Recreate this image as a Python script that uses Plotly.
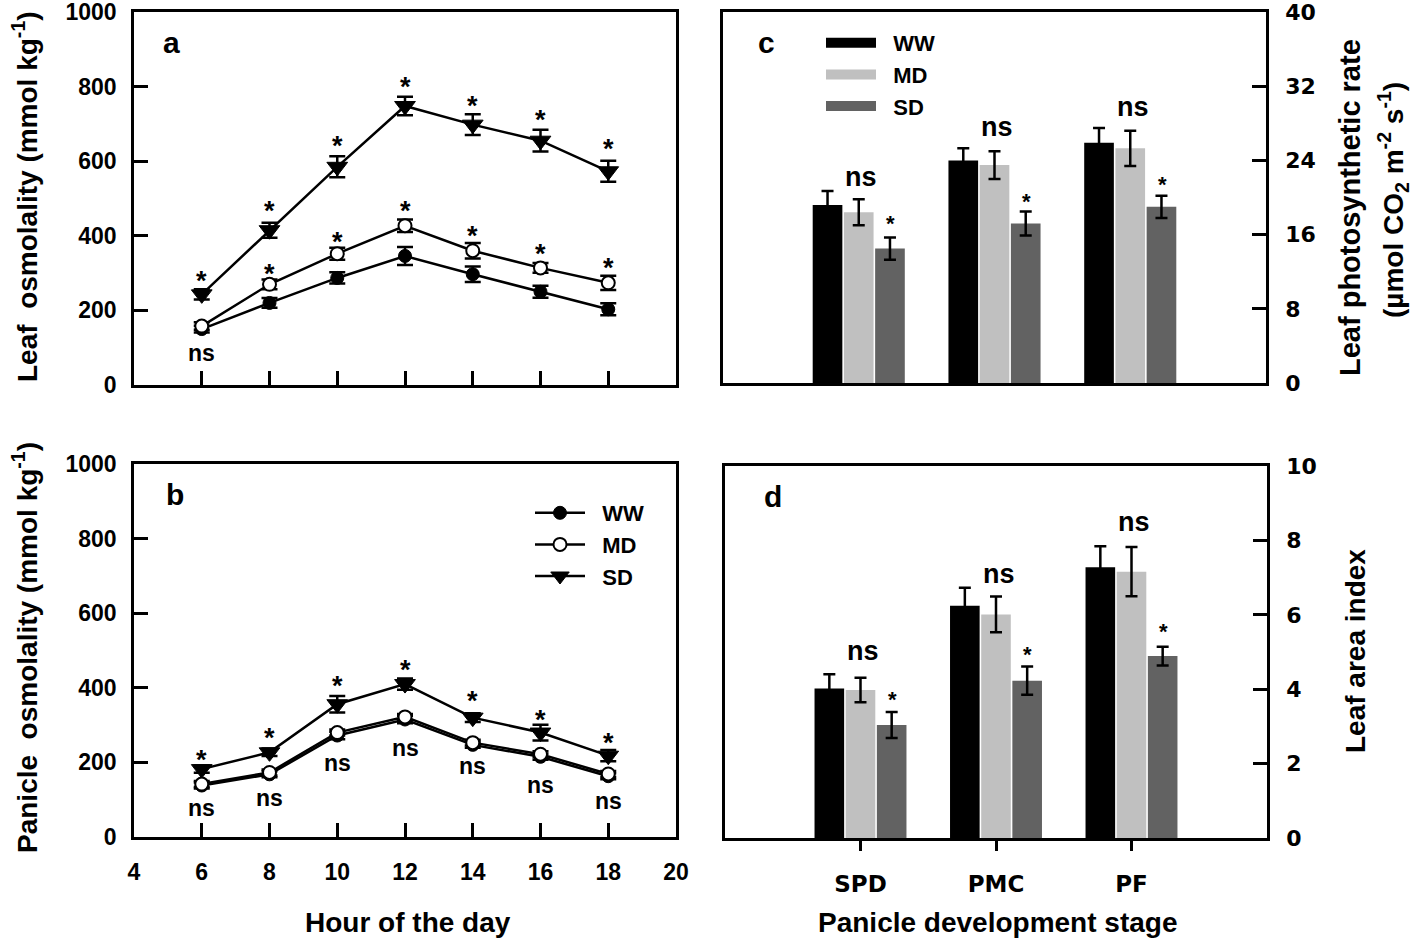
import plotly.graph_objects as go

# ---------------- data ----------------
hours = [6, 8, 10, 12, 14, 16, 18]
hour_ticks = [4, 6, 8, 10, 12, 14, 16, 18, 20]

leaf_ww = [150, 220, 287, 346, 297, 250, 203]
leaf_ww_err = [9, 13, 15, 24, 21, 16, 16]
leaf_md = [158, 270, 352, 427, 360, 314, 274]
leaf_md_err = [10, 13, 16, 17, 21, 13, 19]
leaf_sd = [243, 415, 585, 748, 698, 655, 573]
leaf_sd_err = [14, 20, 28, 25, 28, 29, 28]

pan_ww = [138, 168, 272, 315, 247, 215, 163]
pan_ww_err = [8, 8, 10, 10, 8, 8, 8]
pan_md = [142, 173, 280, 322, 253, 222, 169]
pan_md_err = [8, 8, 8, 8, 8, 8, 8]
pan_sd = [182, 227, 356, 410, 320, 280, 218]
pan_sd_err = [10, 10, 22, 15, 12, 21, 15]

# significance labels (text, y position) for line panels
leaf_sig_sd_y = [292, 482, 655, 813, 762, 724, 648]
leaf_sig_md = ["ns", "*", "*", "*", "*", "*", "*"]
leaf_sig_md_y = [84, 311, 399, 481, 414, 365, 327]
pan_sig_sd_y = [222, 280, 418, 463, 378, 329, 267]
pan_sig_ns_y = [75, 102, 196, 236, 187, 138, 93]

stages = ["SPD", "PMC", "PF"]
stage_pos = [0, 1, 2]

pn_ww = [19.2, 24.0, 25.9]
pn_ww_err = [1.5, 1.3, 1.6]
pn_md = [18.4, 23.5, 25.3]
pn_md_err = [1.4, 1.5, 1.9]
pn_sd = [14.5, 17.2, 19.0]
pn_sd_err = [1.2, 1.3, 1.2]
pn_ns_y = [22.1, 27.5, 29.6]
pn_star_y = [17.7, 20.0, 21.9]

lai_ww = [4.02, 6.24, 7.28]
lai_ww_err = [0.38, 0.49, 0.56]
lai_md = [3.98, 6.01, 7.16]
lai_md_err = [0.33, 0.48, 0.66]
lai_sd = [3.04, 4.23, 4.89]
lai_sd_err = [0.35, 0.38, 0.25]
lai_ns_y = [5.01, 7.07, 8.46]
lai_star_y = [3.84, 5.05, 5.68]

treatments = ["WW", "MD", "SD"]
bar_colors = ["#000000", "#c0c0c0", "#626262"]

W, H = 1418, 939
FONT = "Liberation Sans"
TICKFONT = dict(family=FONT, size=23, color="black", weight="bold")
TICKFONT_R = dict(family="DejaVu Sans", size=22, color="black", weight="bold")
LW = 2.5
NB = "\u00a0"


def px(xp):
    return xp / W


def py(yp):
    return 1 - yp / H


fig = go.Figure()

# ---------------- line panels ----------------
line_specs = [
    ("WW", dict(symbol="circle", size=13, color="black", line=dict(color="black", width=1))),
    ("MD", dict(symbol="circle", size=13, color="white", line=dict(color="black", width=2))),
    ("SD", dict(symbol="triangle-down", size=18, color="black", line=dict(color="black", width=1))),
]
leaf_vals = [(leaf_ww, leaf_ww_err), (leaf_md, leaf_md_err), (leaf_sd, leaf_sd_err)]
pan_vals = [(pan_ww, pan_ww_err), (pan_md, pan_md_err), (pan_sd, pan_sd_err)]

for (name, mk), (vals, errs) in zip(line_specs, leaf_vals):
    fig.add_trace(go.Scatter(
        x=hours, y=vals, mode="lines+markers", name=name, showlegend=False,
        line=dict(color="black", width=LW), marker=mk,
        error_y=dict(type="data", array=errs, color="black", thickness=2.5, width=8),
        xaxis="x", yaxis="y"))

for (name, mk), (vals, errs) in zip(line_specs, pan_vals):
    fig.add_trace(go.Scatter(
        x=hours, y=vals, mode="lines+markers", name=NB + NB + name, showlegend=True,
        legend="legend",
        line=dict(color="black", width=LW), marker=mk,
        error_y=dict(type="data", array=errs, color="black", thickness=2.5, width=8),
        xaxis="x2", yaxis="y2"))

# ---------------- bar panels ----------------
pn_vals = [(pn_ww, pn_ww_err), (pn_md, pn_md_err), (pn_sd, pn_sd_err)]
lai_vals = [(lai_ww, lai_ww_err), (lai_md, lai_md_err), (lai_sd, lai_sd_err)]

for name, col, (vals, errs) in zip(treatments, bar_colors, pn_vals):
    fig.add_trace(go.Bar(
        x=stage_pos, y=vals, name=name, showlegend=False, offsetgroup=name,
        marker=dict(color=col, line=dict(width=0)),
        error_y=dict(type="data", array=errs, color="black", thickness=2.5, width=6),
        xaxis="x3", yaxis="y3"))
    # legend swatch
    fig.add_trace(go.Scatter(
        x=[None], y=[None], mode="lines", name=NB + NB + name, legend="legend2",
        line=dict(color=col, width=12), xaxis="x3", yaxis="y3"))

for name, col, (vals, errs) in zip(treatments, bar_colors, lai_vals):
    fig.add_trace(go.Bar(
        x=stage_pos, y=vals, name=name, showlegend=False, offsetgroup=name,
        marker=dict(color=col, line=dict(width=0)),
        error_y=dict(type="data", array=errs, color="black", thickness=2.5, width=6),
        xaxis="x4", yaxis="y4"))

# ---------------- annotations ----------------
ann = []


def sig(text, x, y, xref, yref, size):
    shift = -0.2 * size if text == "*" else 1
    ann.append(dict(text=text, x=x, y=y, xref=xref, yref=yref, showarrow=False,
                    xanchor="center", yanchor="middle", yshift=shift,
                    font=dict(family=FONT, size=size, color="black", weight="bold")))


for h, y in zip(hours, leaf_sig_sd_y):
    sig("*", h, y, "x", "y", 27)
for h, t, y in zip(hours, leaf_sig_md, leaf_sig_md_y):
    sig(t, h, y, "x", "y", 23 if t == "ns" else 27)
for h, y in zip(hours, pan_sig_sd_y):
    sig("*", h, y, "x2", "y2", 27)
for h, y in zip(hours, pan_sig_ns_y):
    sig("ns", h, y, "x2", "y2", 23)
for p, y in zip(stage_pos, pn_ns_y):
    sig("ns", p + 0.02, y, "x3", "y3", 27)
for p, y in zip(stage_pos, pn_star_y):
    sig("*", p + 0.235, y, "x3", "y3", 22)
for p, y in zip(stage_pos, lai_ns_y):
    sig("ns", p + 0.02, y, "x4", "y4", 27)
for p, y in zip(stage_pos, lai_star_y):
    sig("*", p + 0.235, y, "x4", "y4", 22)

# panel letters
for letter, xp, yp in [("a", 171, 43), ("b", 175, 495), ("c", 766, 43), ("d", 773, 497)]:
    ann.append(dict(text=letter, x=px(xp), y=py(yp), xref="paper", yref="paper",
                    showarrow=False, xanchor="center", yanchor="middle",
                    font=dict(family=FONT, size=30, color="black", weight="bold")))

TF = dict(family=FONT, size=28, color="black", weight="bold")
titles = [
    ("Leaf  osmolality (mmol kg<sup>-1</sup>)", 25, 197, -90, 28),
    ("Panicle  osmolality (mmol kg<sup>-1</sup>)", 25, 648, -90, 28),
    ("Hour of the day", 408, 922, 0, 28),
    ("Panicle development stage", 997, 922, 0, 28),
    ("Leaf photosynthetic rate", 1350, 208, -90, 29),
    ("(µmol CO<sub>2</sub> m<sup>-2</sup> s<sup>-1</sup>)", 1393, 200, -90, 28),
    ("Leaf area index", 1355, 651, -90, 28),
]
for t, xp, yp, ang, fs in titles:
    ann.append(dict(text=t, x=px(xp), y=py(yp), xref="paper", yref="paper",
                    showarrow=False, xanchor="center", yanchor="middle",
                    textangle=ang, font=dict(TF, size=fs)))


# ---------------- axes ----------------
def frame(**kw):
    d = dict(showline=True, linewidth=LW, linecolor="black", mirror=True,
             showgrid=False, zeroline=False, tickcolor="black", tickwidth=LW,
             automargin=False, ticklabeloverflow="allow")
    d.update(kw)
    return d


layout = dict(
    width=W, height=H, margin=dict(l=0, r=0, t=0, b=0, autoexpand=False),
    paper_bgcolor="white", plot_bgcolor="white",
    barmode="group", bargap=0.31, bargroupgap=0.05,
    annotations=ann,
    xaxis=frame(domain=[px(134), px(676)], range=[4, 20], anchor="y",
                tickvals=hours, ticks="inside", ticklen=14, showticklabels=False),
    yaxis=frame(domain=[py(385), py(12)], range=[0, 1000], anchor="x",
                tickvals=[0, 200, 400, 600, 800, 1000], ticks="inside", ticklen=14,
                tickfont=TICKFONT, ticklabelstandoff=10),
    xaxis2=frame(domain=[px(134), px(676)], range=[4, 20], anchor="y2",
                 tickvals=hour_ticks, ticks="inside", ticklen=14,
                 tickfont=TICKFONT, ticklabelstandoff=13),
    yaxis2=frame(domain=[py(837), py(464)], range=[0, 1000], anchor="x2",
                 tickvals=[0, 200, 400, 600, 800, 1000], ticks="inside", ticklen=14,
                 tickfont=TICKFONT, ticklabelstandoff=10),
    xaxis3=frame(domain=[px(723), px(1266)], range=[-1, 3], anchor="y3",
                 ticks="", showticklabels=False),
    yaxis3=frame(domain=[py(383), py(12)], range=[0, 40], anchor="x3", side="right",
                 tickvals=[0, 8, 16, 24, 32, 40], ticks="inside", ticklen=14,
                 tickfont=TICKFONT_R, ticklabelstandoff=12),
    xaxis4=frame(domain=[px(725), px(1267)], range=[-1, 3], anchor="y4",
                 tickvals=stage_pos, ticktext=stages, ticks="outside", ticklen=10,
                 tickfont=dict(family="DejaVu Sans", size=23, color="black", weight="bold"),
                 ticklabelstandoff=14),
    yaxis4=frame(domain=[py(838), py(466)], range=[0, 10], anchor="x4", side="right",
                 tickvals=[0, 2, 4, 6, 8, 10], ticks="inside", ticklen=14,
                 tickfont=TICKFONT_R, ticklabelstandoff=12),
    legend=dict(x=px(530), y=py(492), xanchor="left", yanchor="top",
                bgcolor="rgba(0,0,0,0)", borderwidth=0, itemwidth=50,
                font=dict(family=FONT, size=22, color="black", weight="bold"),
                tracegroupgap=0),
    legend2=dict(x=px(821), y=py(22), xanchor="left", yanchor="top",
                 bgcolor="rgba(0,0,0,0)", borderwidth=0, itemwidth=50,
                 font=dict(family=FONT, size=22, color="black", weight="bold"),
                 tracegroupgap=0),
)
fig.update_layout(**layout)
fig.write_html("out.html",
               config={"displayModeBar": False},
               post_script="document.body.style.margin='0px';"
                           "document.body.style.overflow='hidden';")
